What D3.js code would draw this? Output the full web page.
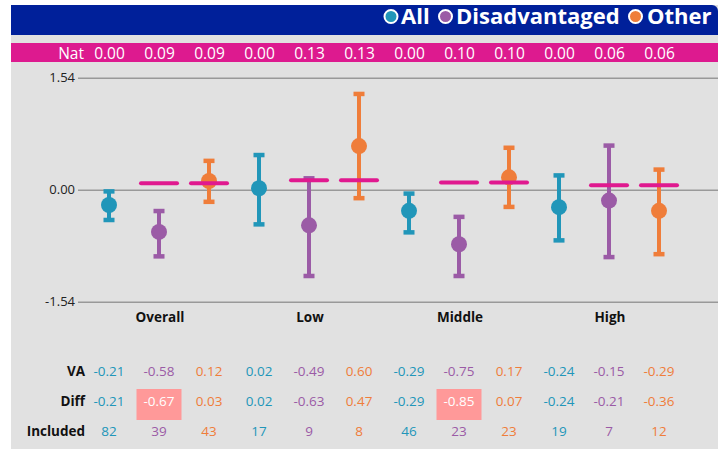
<!DOCTYPE html>
<html>
<head>
<meta charset="utf-8">
<script src="https://cdn.jsdelivr.net/npm/d3@7/dist/d3.min.js"></script>
<style>
body { margin: 0; background: #fff; }
svg { display: block; font-family: "Open Sans", sans-serif; }
</style>
</head>
<body>
<svg id="chart" width="718" height="449"></svg>
<script>
// ---- data ----
const categories = ["Overall", "Low", "Middle", "High"];
const seriesNames = ["All", "Disadvantaged", "Other"];
const seriesColors = ["#2196b9", "#9b5ba6", "#ef7d3a"];
const yTicks = [-1.54, 0, 1.54];
const tickLabels = ["-1.54", "0.00", "1.54"];

// per category: [All, Disadvantaged, Other]
const vaValues   = [[-0.21, -0.58, 0.12], [0.02, -0.49, 0.60], [-0.29, -0.75, 0.17], [-0.24, -0.15, -0.29]];
const ciLow      = [[-0.42, -0.92, -0.17], [-0.48, -1.19, -0.12], [-0.59, -1.19, -0.24], [-0.70, -0.93, -0.89]];
const ciHigh     = [[-0.02, -0.29, 0.40], [0.48, 0.16, 1.32], [-0.05, -0.37, 0.58], [0.20, 0.61, 0.28]];
const natValues  = [[0.00, 0.09, 0.09], [0.00, 0.13, 0.13], [0.00, 0.10, 0.10], [0.00, 0.06, 0.06]];
const diffValues = [[-0.21, -0.67, 0.03], [0.02, -0.63, 0.47], [-0.29, -0.85, 0.07], [-0.24, -0.21, -0.36]];
const included   = [[82, 39, 43], [17, 9, 8], [46, 23, 23], [19, 7, 12]];
const highlighted = [[false, true, false], [false, false, false], [false, true, false], [false, false, false]];

// ---- flatten ----
const points = [];
categories.forEach((c, ci) => seriesNames.forEach((s, si) => points.push({
  cat: c, ser: s, si,
  va: vaValues[ci][si], lo: ciLow[ci][si], hi: ciHigh[ci][si],
  nat: natValues[ci][si], diff: diffValues[ci][si], n: included[ci][si],
  hl: highlighted[ci][si]
})));

const svg = d3.select("#chart");
const W = 718, H = 449;

// scales
const x0 = d3.scaleBand().domain(categories).range([84, 684]);
const x1 = d3.scalePoint().domain(seriesNames).range([25, 125]);
const xPos = d => x0(d.cat) + x1(d.ser);
const y = d3.scaleLinear().domain([-1.54, 1.54]).range([301.7, 77.7]);
const color = d3.scaleOrdinal().domain(seriesNames).range(seriesColors);

// panel background
svg.append("rect").attr("x", 11).attr("y", 5).attr("width", W - 11).attr("height", H - 5).attr("fill", "#e1e1e1");

// header band
const hdrPath = (() => {
  const x = 11, yy = 5, w = W - 11, h = 30, r = 6;
  return `M${x},${yy}H${x + w - r}A${r},${r} 0 0 1 ${x + w},${yy + r}V${yy + h}H${x}Z`;
})();
svg.append("path").attr("d", hdrPath).attr("fill", "#00209a");

// legend
const legendItems = [
  {name: "All", cx: 391, tx: 401},
  {name: "Disadvantaged", cx: 445.5, tx: 456},
  {name: "Other", cx: 635.5, tx: 647}
];
const lg = svg.append("g");
legendItems.forEach(it => {
  lg.append("circle").attr("cx", it.cx).attr("cy", 16.5).attr("r", 6.5)
    .attr("fill", color(it.name)).attr("stroke", "#fff").attr("stroke-width", 2);
  lg.append("text").attr("x", it.tx).attr("y", 23.5).attr("fill", "#fff")
    .attr("font-size", 22).attr("font-weight", "bold").text(it.name);
});

// Nat band
svg.append("rect").attr("x", 11).attr("y", 43).attr("width", W - 11).attr("height", 19).attr("fill", "#dd1a8f");
svg.append("text").attr("x", 84).attr("y", 58.5).attr("text-anchor", "end").attr("fill", "#fff")
  .attr("font-size", 15.5).text("Nat");
svg.append("g").selectAll("text").data(points).join("text")
  .attr("x", d => xPos(d) + 0.5).attr("y", 58.5).attr("text-anchor", "middle").attr("fill", "#fff")
  .attr("font-size", 15.5).text(d => d.nat.toFixed(2));

// y axis grid + labels
const yAxis = d3.axisLeft(y).tickValues(yTicks).tickSize(-(W - 78)).tickFormat((d, i) => tickLabels[i]);
const ga = svg.append("g").attr("transform", "translate(78,0)").call(yAxis);
ga.select(".domain").remove();
ga.selectAll(".tick line").attr("stroke", "#999").attr("stroke-width", 1.6);
ga.selectAll(".tick text").attr("x", -3).attr("fill", "#222").attr("font-size", 13)
  .attr("font-family", "Open Sans, sans-serif");

// error bars
const eb = svg.append("g");
eb.selectAll("line.stem").data(points).join("line").attr("class", "stem")
  .attr("x1", xPos).attr("x2", xPos).attr("y1", d => y(d.hi)).attr("y2", d => y(d.lo))
  .attr("stroke", d => color(d.ser)).attr("stroke-width", 4);
eb.selectAll("rect.capT").data(points).join("rect").attr("class", "capT")
  .attr("x", d => xPos(d) - 5.5).attr("y", d => y(d.hi) - 2).attr("width", 11).attr("height", 4.5)
  .attr("fill", d => color(d.ser));
eb.selectAll("rect.capB").data(points).join("rect").attr("class", "capB")
  .attr("x", d => xPos(d) - 5.5).attr("y", d => y(d.lo) - 2.5).attr("width", 11).attr("height", 4.5)
  .attr("fill", d => color(d.ser));
eb.selectAll("circle").data(points).join("circle")
  .attr("cx", xPos).attr("cy", d => y(d.va)).attr("r", 8).attr("fill", d => color(d.ser));

// Nat dashes
svg.append("g").selectAll("line").data(points.filter(d => d.nat !== 0)).join("line")
  .attr("x1", d => xPos(d) - 18).attr("x2", d => xPos(d) + 18)
  .attr("y1", d => y(d.nat)).attr("y2", d => y(d.nat))
  .attr("stroke", "#e0198f").attr("stroke-width", 4).attr("stroke-linecap", "round");

// category labels
svg.append("g").selectAll("text").data(categories).join("text")
  .attr("x", d => x0(d) + x0.bandwidth() / 2 + 1).attr("y", 322).attr("text-anchor", "middle")
  .attr("font-size", 13.5).attr("font-weight", "bold").attr("fill", "#111").text(d => d);

// table
const rows = [
  {label: "VA", y: 376, val: d => d.va.toFixed(2)},
  {label: "Diff", y: 406, val: d => d.diff.toFixed(2)},
  {label: "Included", y: 436, val: d => String(d.n)}
];
const tg = svg.append("g");
tg.selectAll("rect.hl").data(points.filter(d => d.hl)).join("rect").attr("class", "hl")
  .attr("x", d => xPos(d) - 22.5).attr("y", 389).attr("width", 45).attr("height", 31)
  .attr("fill", "#ff9999");
rows.forEach(r => {
  tg.append("text").attr("x", 85).attr("y", r.y).attr("text-anchor", "end")
    .attr("font-size", 13.5).attr("font-weight", "bold").attr("fill", "#111").text(r.label);
  tg.append("g").selectAll("text").data(points).join("text")
    .attr("x", xPos).attr("y", r.y).attr("text-anchor", "middle").attr("font-size", 13.5)
    .attr("fill", d => (r.label === "Diff" && d.hl) ? "#fff" : color(d.ser))
    .text(r.val);
});
</script>
</body>
</html>
